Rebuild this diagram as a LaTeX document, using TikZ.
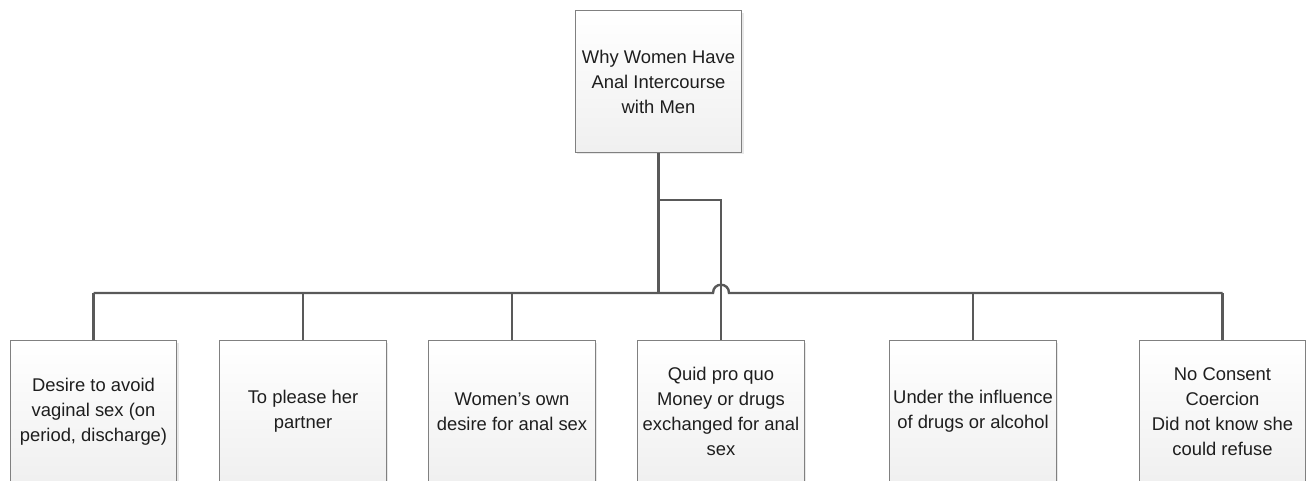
\documentclass[tikz,border=0pt]{standalone}
\usepackage{fontspec}
\setmainfont{Liberation Sans}
\usetikzlibrary{calc,shadows}
\definecolor{linecolor}{RGB}{89, 89, 89}
\definecolor{boxborder}{RGB}{128, 128, 128}
\definecolor{boxtext}{RGB}{30, 30, 30}
\begin{document}
\begin{tikzpicture}[
    x=0.75pt, y=-0.75pt,
    % Estilos dos nós
    reason/.style={
        rectangle,
        draw=boxborder,
        line width=0.6pt,
        top color=white,
        bottom color=gray!12,
        drop shadow={shadow xshift=1.5pt, shadow yshift=-1.5pt, fill=gray, opacity=0.18},
        minimum width=125pt,
        minimum height=106pt,
        inner sep=1pt,
        align=center,
        text=boxtext,
        font=\fontsize{13.8}{18.8}\selectfont
    },
    conn/.style={line width=1.8pt, draw=linecolor}
]
\useasboundingbox (0,0) rectangle (1306,481);
\clip (0,0) rectangle (1306,481);

% ============================================================================
% Raiz
% ============================================================================
\node[reason] (root) at (658.5, 81.5) {Why Women Have\\Anal Intercourse\\with Men};

% ============================================================================
% Motivos
% ============================================================================
\node[reason] (avoid)  at (93.5, 411.5)  {Desire to avoid\\vaginal sex (on\\period, discharge)};
\node[reason] (please) at (303, 411.5)   {To please her\\partner};
\node[reason] (own)    at (512, 411.5)   {Women’s own\\desire for anal sex};
\node[reason] (quid)   at (721, 411.5)   {Quid pro quo\\Money or drugs\\exchanged for anal\\sex};
\node[reason] (drugs)  at (973, 411.5)   {Under the influence\\of drugs or alcohol};
\node[reason] (noc)    at (1222.5, 411.5) {No Consent\\Coercion\\Did not know she\\could refuse};

% ============================================================================
% Conectores
% ============================================================================
\coordinate (bus) at (0, 293);
\coordinate (fork) at (root.south |- 0, 200);
\coordinate (hop) at (quid.north |- bus);

\draw[conn] (root.south) -- (root.south |- bus);
\draw[conn] (fork) -- (fork -| quid.north) -- (quid.north);

\draw[conn] (avoid.north |- bus) -- ($(hop)+(-8,0)$)
    .. controls ($(hop)+(-8,-11)$) and ($(hop)+(8,-11)$) .. ($(hop)+(8,0)$)
    -- (noc.north |- bus);

\foreach \b in {avoid, please, own, drugs, noc}
    \draw[conn] (\b.north |- bus) -- (\b.north);

\end{tikzpicture}
\end{document}
